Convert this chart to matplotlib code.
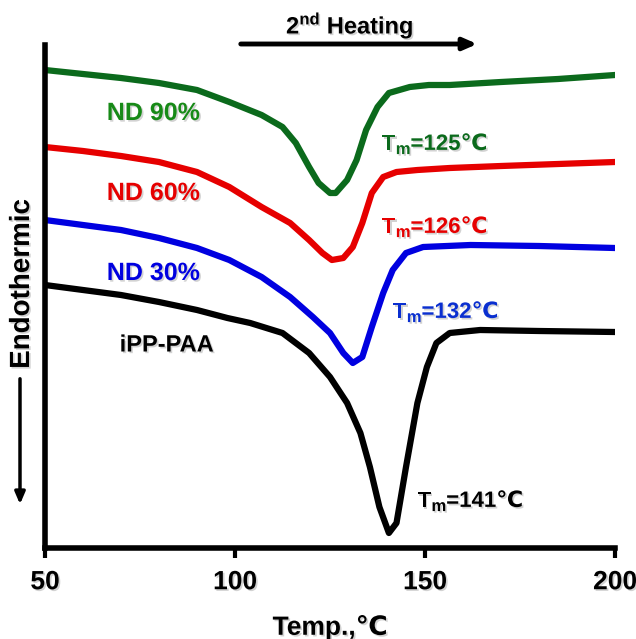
import matplotlib
matplotlib.use('Agg')
import matplotlib.pyplot as plt
import matplotlib.patheffects as pe


# DSC second heating curves, heat flow in arbitrary units.
temp_nd90 = [50, 60, 70, 80, 90, 98.5, 107, 112.5, 116, 119.5, 122, 125, 126.5,
             129.5, 132, 134.5, 137.5, 140.5, 146, 151, 156.5, 170, 185, 200]
flow_nd90 = [47.8, 47.4, 47.0, 46.5, 45.8, 44.6, 43.3, 42.1, 40.5, 38.1, 36.5,
             35.5, 35.5, 36.8, 38.8, 41.8, 44.1, 45.5, 46.1, 46.3, 46.3, 46.6,
             46.9, 47.3]

temp_nd60 = [50, 60, 70, 80, 90, 98.5, 107, 114.5, 119.5, 123, 125.5, 128.5,
             131, 133.5, 136, 139, 142.5, 148, 156.5, 170, 185, 200]
flow_nd60 = [40.1, 39.7, 39.2, 38.6, 37.6, 36.1, 34.1, 32.5, 30.8, 29.5, 28.8,
             29.0, 30.1, 32.5, 35.5, 37.1, 37.6, 37.8, 38.0, 38.2, 38.4, 38.6]

temp_nd30 = [50, 60, 70, 80, 90, 98.5, 107, 114.5, 120.5, 125, 128.5, 131,
             133.5, 136, 139, 141.5, 145, 149.5, 162, 180, 200]
flow_nd30 = [32.8, 32.3, 31.8, 31.0, 30.0, 28.8, 27.1, 25.1, 23.1, 21.5, 19.5,
             18.5, 19.1, 22.1, 25.5, 27.8, 29.5, 30.1, 30.3, 30.2, 30.0]

temp_ipp = [50, 60, 70, 80, 90, 98, 104, 112.5, 119.5, 125, 129.5, 133, 135.5,
            138, 140.5, 142.5, 145, 148, 150.5, 153, 156.5, 164.5, 180, 200]
flow_ipp = [26.3, 25.8, 25.3, 24.6, 23.8, 23.0, 22.5, 21.5, 19.5, 17.1, 14.5,
            11.5, 8.1, 4.1, 1.5, 2.5, 8.1, 14.5, 18.1, 20.5, 21.5, 21.8, 21.7,
            21.6]

melt_temps = [125, 126, 132, 141]
x_ticks = [50, 100, 150, 200]


plt.rcParams['font.family'] = ['Liberation Sans', 'DejaVu Sans']
plt.rcParams['font.weight'] = 'bold'
plt.rcParams['mathtext.fontset'] = 'custom'
plt.rcParams['mathtext.rm'] = 'Liberation Sans:bold'
plt.rcParams['mathtext.bf'] = 'Liberation Sans:bold'

# soft drop shadow like the original text
shadow = [pe.withSimplePatchShadow(offset=(1.2, -1.2), shadow_rgbFace='gray',
                                   alpha=0.35)]

fig = plt.figure(figsize=(6.36, 6.39), dpi=100)
ax = fig.add_axes([45 / 636, 1 - 548 / 639, 570 / 636, 503 / 639])

green = '#0b6a1c'
red = '#e60000'
blue = '#0000e0'
lw = 4.5
ax.plot(temp_nd90, flow_nd90, color=green, lw=lw, solid_joinstyle='round')
ax.plot(temp_nd60, flow_nd60, color=red, lw=lw, solid_joinstyle='round')
ax.plot(temp_nd30, flow_nd30, color=blue, lw=lw, solid_joinstyle='round')
ax.plot(temp_ipp, flow_ipp, color='black', lw=lw, solid_joinstyle='round')

ax.set_xlim(50, 200)
ax.set_ylim(0, 50.3)
ax.set_xticks(x_ticks)
ax.set_yticks([])
for side in ['top', 'right']:
    ax.spines[side].set_visible(False)
for side in ['left', 'bottom']:
    ax.spines[side].set_linewidth(4)
ax.tick_params(axis='x', direction='out', length=7, width=3,
               labelsize=19, pad=9)
for lab in ax.get_xticklabels():
    lab.set_fontweight('bold')
    lab.set_path_effects(shadow)
ax.set_xlabel('Temp.,\u2103', fontsize=19, fontweight='bold', labelpad=15,
              path_effects=shadow)

# Sample labels
ax.text(78.5, 43.5, 'ND 90%', color='#178a17', ha='center', va='center',
        fontsize=18, fontweight='bold', path_effects=shadow)
ax.text(78.5, 35.5, 'ND 60%', color=red, ha='center', va='center',
        fontsize=18, fontweight='bold', path_effects=shadow)
ax.text(78.5, 27.5, 'ND 30%', color=blue, ha='center', va='center',
        fontsize=18, fontweight='bold', path_effects=shadow)
ax.text(82, 20.3, 'iPP-PAA', color='black', ha='center', va='center',
        fontsize=17, fontweight='bold', path_effects=shadow)


# Tm label built from pieces: "T", subscript "m", then "=125℃"
def tm_label(x, y, value, color):
    t = ax.text(x, y, 'T', color=color, fontsize=16, fontweight='bold',
                va='baseline', path_effects=shadow)
    m = ax.annotate('m', xy=(1, 0), xycoords=t, xytext=(0.3, -1.5),
                    textcoords='offset points', color=color, fontsize=12,
                    fontweight='bold', va='bottom', path_effects=shadow)
    ax.annotate('=%d\u2103' % value, xy=(1, 0), xycoords=m, xytext=(0, 1.6),
                textcoords='offset points', color=color, fontsize=16,
                fontweight='bold', va='bottom', path_effects=shadow)


tm_label(138.6, 39.8, melt_temps[0], green)
tm_label(138.6, 31.5, melt_temps[1], red)
tm_label(141.5, 23.0, melt_temps[2], '#0a2fd0')
tm_label(148, 4.1, melt_temps[3], 'black')

# Heating direction arrow
fig.text(350 / 636, 1 - 25 / 639, r'2$^{\mathbf{nd}}$ Heating', fontsize=17,
         fontweight='bold', ha='center', va='center', path_effects=shadow)
ax.annotate('', xy=(480 / 636, 1 - 44 / 639), xytext=(238 / 636, 1 - 44 / 639),
            xycoords='figure fraction', textcoords='figure fraction',
            arrowprops=dict(arrowstyle='-|>,head_length=0.8,head_width=0.35',
                            lw=3.5, color='black'),
            annotation_clip=False)

# Endothermic label with down arrow
fig.text(22 / 636, 1 - 284 / 639, 'Endothermic', fontsize=20, fontweight='bold',
         rotation=90, ha='center', va='center', path_effects=shadow)
ax.annotate('', xy=(20 / 636, 1 - 507 / 639), xytext=(20 / 636, 1 - 376 / 639),
            xycoords='figure fraction', textcoords='figure fraction',
            arrowprops=dict(arrowstyle='-|>,head_length=0.7,head_width=0.3',
                            lw=2.5, color='black'),
            annotation_clip=False)

plt.savefig('out.png', dpi=100)
